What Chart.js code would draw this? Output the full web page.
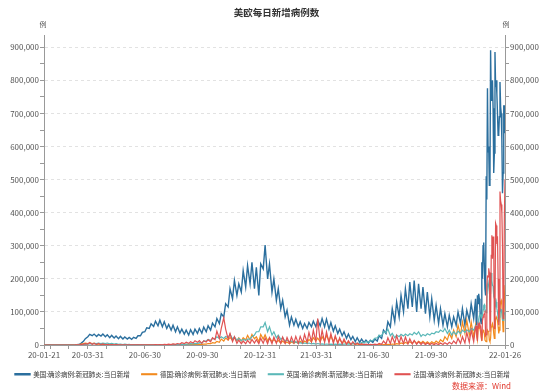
<!DOCTYPE html>
<html><head><meta charset="utf-8">
<script src="https://cdn.jsdelivr.net/npm/chart.js@4.4.1/dist/chart.umd.min.js"></script>
<style>html,body{margin:0;padding:0;background:#fff}#wrap{width:550px;height:392px;position:relative}</style>
</head><body><div id="wrap"><canvas id="c" width="550" height="392"></canvas></div>
<script>
// x = days since 2020-01-21 (twice weekly samples, daily from 2021-12-11)
const days = [0,3,7,10,14,17,21,24,28,31,35,38,42,45,49,52,56,59,63,66,70,73,77,80,84,87,91,94,98,101,105,108,112,115,119,122,126,129,133,136,140,143,147,150,154,157,161,164,168,171,175,178,182,185,189,192,196,199,203,206,210,213,217,220,224,227,231,234,238,241,245,248,252,255,259,262,266,269,273,276,280,283,287,290,294,297,301,304,308,311,315,318,322,325,329,332,336,339,343,346,350,353,357,360,364,367,371,374,378,381,385,388,392,395,399,402,406,409,413,416,420,423,427,430,434,437,441,444,448,451,455,458,462,465,469,472,476,479,483,486,490,493,497,500,504,507,511,514,518,521,525,528,532,535,539,542,546,549,553,556,560,563,567,570,574,577,581,584,588,591,595,598,602,605,609,612,616,619,623,626,630,633,637,640,644,647,651,654,658,661,665,668,672,675,679,682,686,689,
690,691,692,693,694,695,696,697,698,699,700,701,702,703,704,705,706,707,708,709,710,711,712,713,714,715,716,717,718,719,720,721,722,723,724,725,726,727,728,729,730,731,732,733,734,735,736];

// daily new cases, thousands
const usCases = [0,0,0,0,0,0,0,0,0,0,0,0,0,0.1,0.2,0.6,1.5,5,11,19,25,32,28,33,26,32,27,33,25,31,22,29,21,27,19,26,18,24,18,23,17,23,20,28,28,38,40,52,50,64,56,72,58,75,55,70,50,62,45,60,40,55,36,48,33,45,30,46,32,48,35,50,36,54,40,58,45,66,55,80,65,95,85,125,115,170,140,195,150,185,160,225,175,240,185,250,170,235,150,245,230,302,200,245,160,200,135,170,110,135,85,105,60,85,60,78,55,70,50,65,50,68,55,72,55,75,58,80,55,78,48,68,42,58,35,48,28,40,20,33,16,26,10,22,8,18,7,15,6,14,8,18,12,28,20,45,35,70,55,110,70,130,85,150,100,170,110,190,115,195,100,185,110,175,95,160,85,140,75,120,65,110,60,95,55,90,55,85,60,100,65,110,60,105,75,125,80,140,
70,60,150,125,155,140,110,75,65,250,200,300,310,240,170,150,510,440,776,584,600,483,500,891,740,760,800,716,520,580,886,780,800,760,700,634,640,690,795,720,700,620,459,520,725,640,725];

const deCases = [0,0,0,0,0,0,0,0,0,0,0,0,0,0.1,0.3,0.9,1.5,3,4,6,4.5,6,4,5.5,2,3.5,1.5,2.5,0.8,1.5,0.6,1.2,0.5,1,0.3,0.8,0.3,0.7,0.3,0.6,0.2,0.5,0.4,0.8,0.5,1,0.3,0.6,0.3,0.7,0.4,0.8,0.5,1,0.6,1.2,0.8,1.5,0.9,1.7,1,1.8,0.8,1.8,0.9,2,1,2,1.2,2.2,1.3,2.5,1.5,2.8,2.5,4.5,4,7,6,11,8,18,12,21,15,23,14,22,13,22,12,22,15,29,16,32,19,25,10,32,18,31,12,22,10,17,8,14,6,12,5,9,4,9,5,9,5,11,6,12,7,17,9,22,12,21,10,25,12,29,13,27,10,24,8,18,6,12,4,8,2,5,1.5,3,1,2,0.6,1,0.4,0.8,0.5,0.9,0.6,1,0.8,1.5,1,2,1.5,3,2,4,2.5,6,3.5,8,4.5,10,5,12,5,11,6,11,5,10,4,10,5,12,6,16,10,25,15,35,20,45,25,60,30,70,35,75,30,70,25,60,
45,25,15,50,65,55,50,40,22,12,35,45,42,35,15,12,10,25,45,42,40,15,10,20,55,60,65,56,35,20,30,80,85,80,75,55,35,45,115,130,135,120,80,40,65,140,181];

const ukCases = [0,0,0,0,0,0,0,0,0,0,0,0,0,0.05,0.1,0.2,0.4,0.7,1.2,2,2.5,4,3.5,5,4,5.5,4.5,5.5,4,6,3.5,5,3,4,2,3,1.5,2.5,1,2,0.8,1.5,0.6,1.2,0.5,1,0.4,0.8,0.4,0.7,0.5,1,0.6,1,0.7,1,0.8,1.2,0.9,1.3,1,1.5,1.1,1.8,1.5,2.5,2.5,4,3.5,5,4,7,6,12,12,17,14,20,18,25,20,25,20,26,22,33,18,25,14,20,13,17,14,18,18,25,30,40,40,55,55,68,40,55,30,40,22,30,17,22,11,15,9,12,7,10,5,7,4,6,4,6,3.5,5,3,4.5,2.5,3.5,2,3,2,2.8,2,2.6,2,2.5,2,2.8,2.5,3.5,2.5,4,4,6,5,7.5,7,10,9,12,14,20,22,30,28,40,38,48,28,35,22,30,25,32,27,33,28,34,30,38,32,40,26,32,28,34,30,36,34,40,38,45,40,50,35,45,30,40,32,42,35,45,38,46,40,50,45,58,
54,48,54,59,78,88,93,90,82,91,90,106,119,122,110,100,98,130,183,190,190,162,138,157,218,195,180,178,146,141,142,120,130,110,99,81,70,84,94,108,107,95,76,74,88,94,100];

const frCases = [0,0,0,0,0,0,0,0,0,0,0,0,0,0.05,0.1,0.3,0.8,1.6,2.5,4,3,7.5,2,5,1.5,5,1,3,0.5,2,0.3,1.5,0.2,1,0.1,0.5,0.1,0.4,0.2,0.6,0.1,0.5,0.2,0.8,0.2,0.6,0.3,0.7,0.4,0.8,0.5,1,0.6,1.1,0.7,1.6,1,2.5,1.5,3.5,2,4.5,3,7,4,8.5,5,10,6,13,8,13,5,13,9,16,10,22,16,42,20,50,82,48,18,35,10,25,5,15,4,12,4,14,5,17,6,16,4,20,5,21,4,22,4,24,5,25,5,24,5,23,5,24,6,26,5,26,7,32,8,38,10,45,10,80,8,45,8,40,6,35,5,28,4,22,3,18,2,13,1.5,10,1,6,0.5,4,0.5,2.5,0.5,2,0.5,2.5,1,5,2,12,3,22,4,25,5,28,5,25,4,24,3,19,3,14,2,10,1.5,8,1,6,1,5,1,5,1,6,1.5,7,2,8,3,12,4,20,5,25,6,38,8,45,10,55,
57,30,12,63,58,65,59,58,32,13,73,84,91,94,104,28,31,180,208,206,232,219,40,67,271,332,261,328,303,50,93,368,361,305,329,200,60,102,464,436,425,400,300,80,97,392,501];

const seriesNames = ['美国:确诊病例:新冠肺炎:当日新增','德国:确诊病例:新冠肺炎:当日新增','英国:确诊病例:新冠肺炎:当日新增','法国:确诊病例:新冠肺炎:当日新增'];
const seriesColors = ['#2b6f9e','#f28a1e','#5bb8b8','#e05252'];

const tickDays = [0,10,39,70,100,131,161,192,223,253,284,314,345,376,404,435,465,496,526,557,588,618,649,679,710,736];
const labelDays = [0,70,161,253,345,435,526,618,736];
const tickLabels = ['20-01-21','20-03-31','20-06-30','20-09-30','20-12-31','21-03-31','21-06-30','21-09-30','22-01-26'];

const titleText = '美欧每日新增病例数';
const unitText = '例';
const sourceText = '数据来源：Wind';

const FONT = "'Noto Sans CJK SC','Noto Sans',sans-serif";
Chart.defaults.font.family = FONT;

const allSeries = [usCases, deCases, ukCases, frCases];
const datasets = allSeries.map((vals, i) => ({
  label: seriesNames[i],
  data: days.map((d, j) => ({x: d, y: vals[j]})),
  borderColor: seriesColors[i],
  backgroundColor: seriesColors[i],
  borderWidth: i === 0 ? 1.4 : 1.2,
  pointRadius: 0,
  tension: 0,
  order: 4 - i
}));

const fmt = v => (v % 100 === 0) ? (v * 1000).toLocaleString('en-US') : '';

const extras = {
  id: 'extras',
  afterDraw(chart) {
    const ctx = chart.ctx, a = chart.chartArea;
    ctx.save();
    ctx.fillStyle = '#555';
    ctx.font = "7px " + FONT;
    ctx.textAlign = 'center';
    ctx.textBaseline = 'middle';
    ctx.fillText(unitText, a.left - 1, 24);
    ctx.fillText(unitText, a.right + 1, 24);
    ctx.fillStyle = '#e03a2f';
    ctx.font = "8px " + FONT;
    ctx.textAlign = 'right';
    ctx.fillText(sourceText, 511, 386);
    ctx.restore();
  }
};

new Chart(document.getElementById('c'), {
  type: 'line',
  data: { datasets },
  plugins: [extras],
  options: {
    responsive: false,
    animation: false,
    devicePixelRatio: 1,
    layout: { padding: { left: 3, right: 0, top: 0, bottom: 4.5 } },
    plugins: {
      title: { display: true, text: titleText, color: '#333', font: { size: 9.5, weight: 'bold' }, padding: { top: 7, bottom: 17 } },
      legend: {
        position: 'bottom', align: 'start',
        labels: {
          boxWidth: 15, boxHeight: 1, padding: 12, color: '#333', font: { size: 6.5 },
          sort: (a, b) => a.datasetIndex - b.datasetIndex
        }
      },
      tooltip: { enabled: false }
    },
    scales: {
      x: {
        type: 'linear', min: 0, max: 736,
        afterBuildTicks: s => { s.ticks = tickDays.map(v => ({ value: v })); },
        afterFit: s => { s.height = 14; },
        ticks: {
          autoSkip: false, maxRotation: 0, padding: 1, color: '#555', font: { size: 8 },
          callback: v => { const i = labelDays.indexOf(v); return i >= 0 ? tickLabels[i] : ''; }
        },
        grid: { drawOnChartArea: false, tickLength: 4, tickColor: '#999' },
        border: { color: '#999' }
      },
      y: {
        type: 'linear', position: 'left', min: 0, max: 936,
        afterFit: s => { s.width = 41; },
        ticks: { stepSize: 50, includeBounds: false, padding: 1, color: '#555', font: { size: 8 }, callback: fmt },
        grid: {
          color: c => (c.tick && c.tick.value > 0 && c.tick.value % 100 === 0) ? '#e2e2e2' : 'rgba(0,0,0,0)',
          tickLength: 4, tickColor: '#999'
        },
        border: { color: '#999', dash: [3, 3] }
      },
      y2: {
        type: 'linear', position: 'right', min: 0, max: 936,
        afterFit: s => { s.width = 45; },
        ticks: { stepSize: 50, includeBounds: false, padding: 1, color: '#555', font: { size: 8 }, callback: fmt },
        grid: { drawOnChartArea: false, tickLength: 4, tickColor: '#999' },
        border: { color: '#999' }
      }
    }
  }
});
</script></body></html>
